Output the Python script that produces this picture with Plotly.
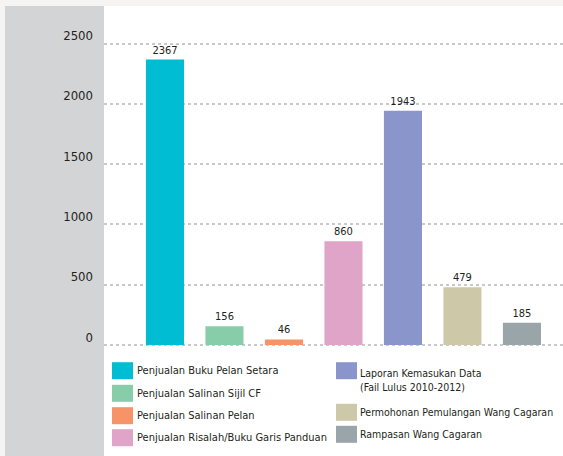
import plotly.graph_objects as go

categories = [
    "Penjualan Buku Pelan Setara",
    "Penjualan Salinan Sijil CF",
    "Penjualan Salinan Pelan",
    "Penjualan Risalah/Buku Garis Panduan",
    "Laporan Kemasukan Data<br>(Fail Lulus 2010-2012)",
    "Permohonan Pemulangan Wang Cagaran",
    "Rampasan Wang Cagaran",
]
values = [2367, 156, 46, 860, 1943, 479, 185]
colors = ["#00BDD3", "#88CDA9", "#F79467", "#E0A4C8", "#8A96CB", "#CCC8A8", "#9AA5AA"]
tick_vals = [0, 500, 1000, 1500, 2000, 2500]

FONT = "DejaVu Sans Condensed, Liberation Sans Narrow, sans-serif"
W, H = 563, 456
L, R, T, B = 104, 0, 6, 109
PW = W - L - R
PH = H - T - B


def px(x):
    return (x - L) / PW


def py(y):
    return (H - B - y) / PH


fig = go.Figure()
fig.add_trace(go.Bar(
    x=categories, y=values,
    marker=dict(color=colors, line=dict(width=0)),
    width=0.64,
    text=[str(v) for v in values],
    textposition="outside",
    textfont=dict(family=FONT, size=11, color="#231F20"),
    cliponaxis=False,
    showlegend=False,
    hoverinfo="skip",
))

shapes = [
    dict(type="rect", xref="paper", yref="paper", x0=px(104), x1=px(563), y0=py(456), y1=py(6),
         fillcolor="#FFFFFF", line=dict(width=0), layer="below"),
    dict(type="rect", xref="paper", yref="paper", x0=px(5), x1=px(104), y0=py(456), y1=py(6),
         fillcolor="#D3D4D6", line=dict(width=0), layer="below"),
]
annotations = []

# legend drawn as swatches + text (two columns)
left_rows = [(0, 370.7), (1, 393.3), (2, 415.7), (3, 437.7)]
right_rows = [(4, 370.7), (5, 412.3), (6, 434.3)]
for cols, x0, tx, fs in [(left_rows, 112, 136, 11), (right_rows, 336, 359, 10.5)]:
    for idx, cy in cols:
        shapes.append(dict(type="rect", xref="paper", yref="paper",
                           x0=px(x0), x1=px(x0 + 21), y0=py(cy + 8.5), y1=py(cy - 8.5),
                           fillcolor=colors[idx], line=dict(width=0)))
        label = categories[idx]
        nlines = label.count("<br>") + 1
        ty = cy if nlines == 1 else cy + 9
        annotations.append(dict(xref="paper", yref="paper", x=px(tx), y=py(ty),
                                text=label, showarrow=False, xanchor="left", yanchor="middle",
                                align="left", borderpad=0,
                                font=dict(family=FONT, size=fs, color="#231F20")))

fig.update_layout(
    width=W, height=H,
    margin=dict(l=L, r=R, t=T, b=B, pad=0),
    paper_bgcolor="#F5F4F2",
    plot_bgcolor="rgba(0,0,0,0)",
    showlegend=False,
    shapes=shapes,
    annotations=annotations,
    xaxis=dict(type="category", range=[-1.025, 6.69], showticklabels=False, showgrid=False,
               zeroline=False, showline=False, ticks="", fixedrange=True),
    yaxis=dict(range=[-2 * 500 / 60.3, 2500 * 341 / 301.5 - 2 * 500 / 60.3],
               tickvals=tick_vals, showgrid=True, gridcolor="#C9C9C9", griddash="dot", gridwidth=1.5,
               zeroline=False, showline=False, ticks="", ticklabelstandoff=10, ticklabelshift=-8,
               tickfont=dict(family=FONT, size=13, color="#231F20"), fixedrange=True),
)

fig.write_html("out.html", config={"displayModeBar": False},
               post_script="document.body.style.margin='0';document.body.style.overflow='hidden';")
